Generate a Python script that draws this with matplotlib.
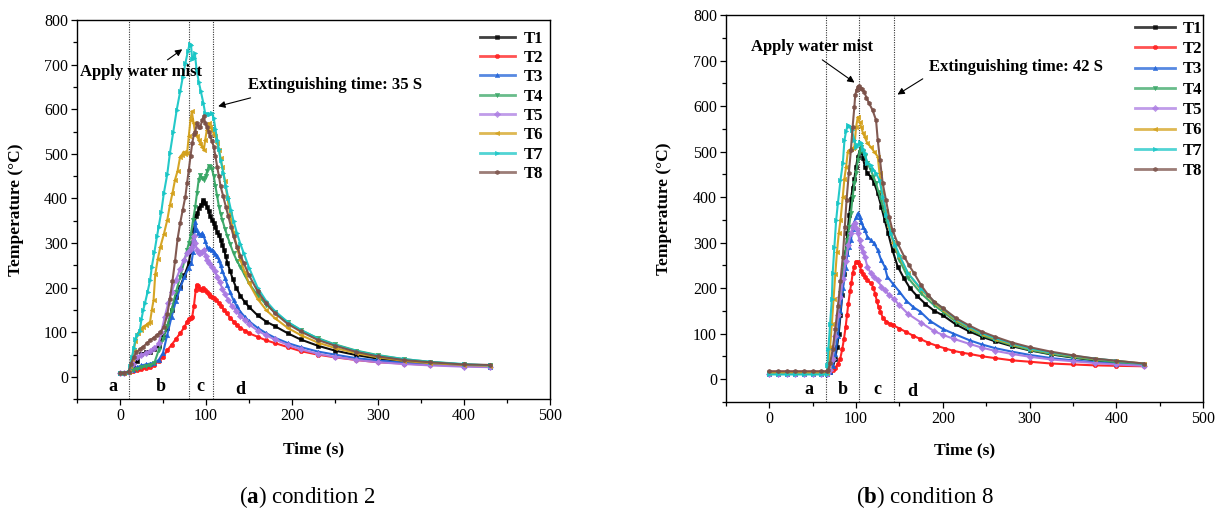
import matplotlib
matplotlib.use("Agg")
import matplotlib.pyplot as plt
from matplotlib.ticker import MultipleLocator

plt.rcParams['font.family'] = ['Liberation Serif', 'DejaVu Serif']
plt.rcParams['mathtext.fontset'] = 'custom'
plt.rcParams['mathtext.rm'] = 'Liberation Serif'
plt.rcParams['mathtext.bf'] = 'Liberation Serif:bold'

# ---------------- data: condition 2 (panel a) ----------------
c2_t1_time = [0, 5, 10, 15, 20, 25, 30, 35, 40, 45, 50, 55, 60, 65, 70, 75, 80, 82, 84, 86, 88, 90, 92, 94, 96, 97, 99, 101, 103, 105, 107, 109, 111, 113, 115, 117, 119, 121, 123, 125, 128, 131, 135, 140, 145, 150, 160, 170, 180, 195, 210, 230, 250, 275, 300, 330, 360, 400, 430]
c2_t1_temp = [10, 10, 12, 26, 36, 52, 55, 57, 62, 70, 90, 110, 150, 180, 202, 228, 255, 280, 300, 330, 360, 368, 378, 385, 392, 397, 390, 382, 372, 360, 352, 345, 335, 325, 318, 307, 296, 285, 270, 255, 238, 220, 200, 182, 168, 157, 138, 124, 114, 98, 84, 70, 59, 49, 41, 35, 30, 26, 24]

c2_t2_time = [0, 5, 10, 15, 20, 25, 30, 35, 40, 45, 50, 55, 60, 65, 70, 75, 78, 80, 82, 84, 86, 88, 89, 91, 93, 95, 97, 99, 101, 103, 105, 107, 109, 112, 115, 118, 121, 124, 128, 132, 136, 140, 145, 150, 160, 170, 180, 195, 210, 230, 250, 275, 300, 330, 360, 400, 430]
c2_t2_temp = [10, 10, 11, 13, 15, 17, 20, 23, 27, 36, 45, 60, 72, 85, 98, 112, 124, 130, 132, 135, 160, 195, 206, 203, 198, 196, 199, 195, 190, 186, 182, 179, 177, 172, 166, 158, 150, 143, 133, 124, 116, 110, 104, 98, 90, 82, 76, 67, 58, 50, 44, 38, 33, 30, 27, 25, 23]

c2_t3_time = [0, 5, 10, 15, 20, 25, 30, 35, 40, 45, 50, 55, 60, 65, 70, 75, 80, 83, 85, 86, 87.5, 89, 91, 93, 95, 97, 99, 101, 103, 105, 107, 109, 111, 113, 115, 117, 119, 122, 125, 128, 132, 136, 140, 145, 150, 160, 170, 180, 195, 210, 230, 250, 275, 300, 330, 360, 400, 430]
c2_t3_temp = [10, 10, 11, 16, 22, 26, 28, 30, 32, 38, 54, 95, 135, 170, 200, 225, 245, 255, 280, 310, 348, 330, 322, 318, 322, 318, 305, 292, 288, 286, 284, 280, 276, 270, 262, 250, 238, 222, 205, 190, 172, 158, 146, 135, 125, 110, 98, 88, 76, 67, 57, 50, 42, 37, 32, 28, 25, 23]

c2_t4_time = [0, 5, 10, 15, 20, 25, 30, 35, 40, 45, 50, 55, 60, 65, 70, 75, 78, 80, 82, 85, 87.5, 89.5, 91.5, 93.5, 95.5, 97.5, 99.5, 101.5, 103, 105, 107, 109, 111, 113, 115, 117, 119, 122, 125, 128, 132, 136, 140, 145, 150, 160, 170, 180, 195, 210, 230, 250, 275, 300, 330, 360, 400, 430]
c2_t4_temp = [10, 10, 11, 15, 18, 22, 24, 26, 32, 60, 85, 115, 150, 190, 225, 260, 285, 300, 315, 352, 382, 412, 442, 453, 445, 442, 450, 462, 472, 470, 465, 450, 427, 405, 382, 365, 352, 332, 315, 298, 277, 260, 247, 228, 210, 183, 162, 145, 123, 105, 87, 73, 59, 49, 40, 34, 28, 26]

c2_t5_time = [0, 5, 10, 15, 20, 25, 30, 35, 40, 45, 48, 52, 56, 60, 65, 70, 74, 78, 81, 83.5, 85.5, 87.5, 89.5, 91.5, 93.5, 95.5, 97.5, 99.5, 101, 104, 107, 110, 113, 116, 119, 122, 126, 130, 135, 140, 145, 150, 160, 170, 180, 195, 210, 230, 250, 275, 300, 330, 360, 400, 430]
c2_t5_temp = [10, 10, 12, 30, 45, 50, 53, 58, 65, 75, 100, 135, 165, 190, 218, 242, 262, 277, 285, 292, 315, 300, 285, 278, 277, 280, 285, 272, 262, 255, 247, 238, 225, 212, 198, 186, 172, 160, 148, 137, 127, 118, 104, 93, 84, 72, 62, 52, 45, 38, 33, 29, 26, 23, 22]

c2_t6_time = [0, 5, 10, 12, 14, 16, 18, 21, 24, 27, 30, 33, 35, 37, 39, 41, 44, 47, 51, 55, 58, 61, 64, 67, 70, 72, 74, 76, 78, 80, 82, 83.5, 85.5, 87.5, 89.5, 91.5, 93.5, 95.5, 97.5, 99, 101, 103, 105, 107, 109, 111, 113, 115, 117, 119, 122, 125, 128, 132, 136, 140, 145, 150, 160, 170, 180, 195, 210, 230, 250, 275, 300, 330, 360, 400, 430]
c2_t6_temp = [10, 10, 12, 25, 40, 60, 80, 98, 105, 113, 116, 120, 124, 150, 172, 230, 265, 292, 320, 352, 385, 412, 442, 462, 494, 498, 505, 500, 501, 540, 576, 595, 570, 546, 540, 531, 522, 516, 509, 530, 554, 569, 560, 554, 545, 539, 525, 509, 490, 471, 440, 400, 365, 325, 290, 262, 235, 210, 175, 150, 132, 110, 94, 77, 65, 53, 44, 36, 31, 27, 25]

c2_t7_time = [0, 5, 10, 12, 14, 16, 18, 20, 23, 25, 27, 29, 32, 35, 37, 40, 43, 45, 48, 51, 55, 58, 62, 66, 70, 73, 76, 79, 81, 82.5, 84, 85.5, 87, 89, 91.5, 94, 97, 99, 101, 103, 105, 107, 109, 111, 113, 115, 117, 120, 123, 126, 129, 132, 136, 140, 144, 150, 160, 170, 180, 195, 210, 230, 250, 275, 300, 330, 360, 400, 430]
c2_t7_temp = [10, 10, 12, 25, 45, 65, 85, 95, 103, 130, 150, 165, 190, 217, 247, 280, 315, 337, 370, 412, 455, 501, 550, 599, 640, 672, 703, 730, 747, 745, 712, 714, 725, 690, 662, 640, 613, 591, 590, 589, 590, 591, 580, 555, 531, 510, 487, 458, 427, 400, 374, 350, 322, 298, 277, 245, 200, 170, 148, 123, 106, 86, 72, 58, 48, 40, 34, 29, 26]

c2_t8_time = [0, 5, 10, 13, 16, 19, 23, 27, 31, 35, 39, 43, 47, 51, 55, 58, 61, 64, 67, 70, 73, 76, 78, 80, 82, 84, 86, 87.5, 89.5, 91.5, 93.5, 95.5, 97.5, 99, 101, 103, 105, 107, 109, 111, 113, 115, 117, 120, 123, 126, 129, 132, 136, 140, 144, 150, 160, 170, 180, 195, 210, 230, 250, 275, 300, 330, 360, 400, 430]
c2_t8_temp = [10, 10, 12, 30, 45, 55, 62, 68, 75, 82, 88, 94, 100, 112, 140, 175, 215, 260, 310, 345, 375, 404, 435, 464, 495, 524, 545, 550, 569, 560, 561, 575, 585, 570, 561, 550, 539, 528, 516, 495, 471, 450, 427, 405, 382, 360, 337, 315, 292, 272, 255, 228, 192, 165, 143, 119, 102, 83, 70, 56, 46, 38, 33, 28, 27]

# ---------------- data: condition 8 (panel b) ----------------
c8_t1_time = [0, 10, 20, 30, 40, 50, 60, 66, 70, 73, 76, 78, 80, 82, 84, 86, 88, 90, 92, 94, 96, 98, 100, 102, 104, 106, 108, 110, 113, 117, 121, 125, 129, 133, 137, 142, 148, 155, 162, 170, 180, 190, 200, 215, 230, 245, 260, 280, 300, 325, 350, 375, 400, 432]
c8_t1_temp = [13, 13, 13, 13, 13, 13, 13, 13, 15, 25, 45, 70, 100, 140, 185, 230, 280, 320, 360, 395, 420, 440, 467, 489, 500, 503, 485, 467, 452, 445, 430, 408, 379, 349, 320, 283, 247, 222, 200, 183, 165, 150, 140, 120, 105, 93, 83, 72, 63, 54, 47, 41, 36, 31]

c8_t2_time = [0, 10, 20, 30, 40, 50, 60, 66, 70, 73, 76, 79, 81.5, 84, 86, 88, 89.5, 91, 93, 94.5, 96, 98, 100, 102, 104, 106, 108, 110, 113, 117, 120, 122, 124, 126, 128, 131, 135, 139, 143, 150, 158, 166, 174, 183, 193, 203, 212, 222, 231, 245, 260, 280, 300, 325, 350, 375, 400, 432]
c8_t2_temp = [16, 16, 16, 16, 16, 16, 16, 16, 17, 20, 25, 33, 43, 65, 88, 115, 140, 165, 193, 210, 232, 247, 258, 258, 250, 238, 230, 225, 218, 210, 201, 187, 171, 158, 148, 134, 126, 121, 118, 111, 103, 95, 88, 80, 73, 67, 62, 58, 55, 50, 46, 41, 38, 34, 32, 30, 29, 28]

c8_t3_time = [0, 10, 20, 30, 40, 50, 60, 66, 70, 73, 76, 79, 82, 85, 88, 90, 92, 94, 96, 98, 100, 102, 104, 106, 108, 110, 113, 117, 121, 125, 129, 133, 136, 143, 150, 158, 166, 174, 185, 200, 212, 231, 245, 260, 280, 300, 325, 350, 375, 400, 432]
c8_t3_temp = [12, 12, 12, 12, 12, 12, 12, 12, 15, 28, 55, 95, 150, 200, 245, 275, 290, 305, 330, 345, 355, 364, 355, 345, 335, 327, 313, 305, 298, 283, 261, 247, 225, 208, 192, 172, 158, 148, 128, 110, 100, 85, 76, 68, 60, 53, 46, 41, 37, 34, 30]

c8_t4_time = [0, 10, 20, 30, 40, 50, 60, 66, 70, 73, 76, 79, 82, 85, 88, 90, 92, 94, 96, 98, 100, 102, 104, 106, 108, 110, 113, 117, 120, 123, 126, 129, 132, 136, 140, 145, 150, 160, 175, 190, 200, 215, 230, 245, 260, 280, 300, 325, 350, 375, 400, 432]
c8_t4_temp = [13, 13, 13, 13, 13, 13, 13, 13, 20, 45, 90, 140, 190, 240, 280, 305, 335, 364, 400, 430, 452, 481, 500, 510, 500, 490, 475, 459, 445, 430, 410, 393, 370, 345, 320, 290, 262, 222, 188, 162, 148, 126, 110, 96, 86, 74, 64, 55, 48, 42, 37, 31]

c8_t5_time = [0, 10, 20, 30, 40, 50, 60, 66, 70, 73, 76, 79, 82, 85, 88, 91, 94, 96, 98, 99, 101, 102, 104, 106, 108, 110, 113, 117, 121, 125, 129, 133, 138, 144, 150, 160, 175, 190, 200, 213, 231, 245, 260, 280, 300, 325, 350, 375, 400, 432]
c8_t5_temp = [12, 12, 12, 12, 12, 12, 12, 12, 20, 45, 95, 140, 180, 220, 260, 295, 320, 335, 340, 342, 330, 320, 305, 291, 280, 269, 247, 232, 225, 218, 203, 195, 185, 175, 162, 143, 124, 105, 97, 88, 77, 69, 62, 55, 49, 43, 39, 35, 32, 29]

c8_t6_time = [0, 10, 20, 30, 40, 50, 60, 66, 68, 70, 72, 74, 76, 78, 80, 82, 84.7, 86.5, 88.5, 90.5, 92, 94, 96, 98, 100, 102, 104, 106, 108, 110, 113, 117, 121, 125, 127, 130, 134, 138, 143, 150, 160, 175, 190, 200, 215, 230, 245, 260, 280, 300, 325, 350, 375, 400, 432]
c8_t6_temp = [13, 13, 13, 13, 13, 13, 13, 13, 30, 70, 120, 175, 230, 280, 320, 349, 401, 440, 467, 500, 503, 505, 507, 510, 554, 576, 565, 554, 540, 532, 518, 510, 499, 489, 452, 410, 370, 335, 300, 268, 232, 196, 168, 152, 130, 113, 99, 88, 76, 66, 57, 50, 44, 40, 34]

c8_t7_time = [0, 10, 20, 30, 40, 50, 60, 66, 67, 68, 70, 72, 73, 75, 77, 79, 82, 84.7, 86.6, 88.5, 90.4, 92, 95, 98, 100, 102, 104, 106, 108, 110, 113, 117, 120, 123, 127, 131, 135, 140, 145, 150, 160, 175, 190, 200, 215, 230, 245, 260, 280, 300, 325, 350, 375, 400, 432]
c8_t7_temp = [10, 10, 10, 10, 10, 10, 10, 10, 30, 65, 120, 175, 232, 291, 349, 386, 437, 474, 525, 545, 558, 555, 547, 525, 510, 515, 520, 518, 505, 496, 474, 470, 460, 452, 437, 400, 360, 320, 295, 272, 232, 198, 170, 155, 132, 115, 101, 90, 78, 67, 58, 51, 45, 40, 33]

c8_t8_time = [0, 10, 20, 30, 40, 50, 60, 66, 68, 70, 73, 76, 79, 82, 84.7, 87, 89, 91.6, 94, 96, 98, 99, 100.5, 102, 103.5, 105, 107, 109.6, 112, 115, 119, 123, 125, 127.6, 130.7, 134.5, 138, 142, 148, 155.5, 161, 167, 175, 183, 190, 200, 215, 230, 245, 260, 280, 300, 325, 350, 375, 400, 432]
c8_t8_temp = [17, 17, 17, 17, 17, 17, 17, 17, 20, 35, 65, 110, 160, 215, 269, 335, 393, 452, 503, 554, 598, 624, 635, 642, 645, 640, 637, 630, 618, 606, 591, 569, 525, 481, 430, 393, 357, 327, 298, 269, 250, 232, 206, 185, 170, 156, 134, 118, 104, 93, 80, 70, 60, 52, 45, 40, 34]

series_labels = ['T1', 'T2', 'T3', 'T4', 'T5', 'T6', 'T7', 'T8']
x_ticks = [0, 100, 200, 300, 400, 500]
y_ticks = [0, 100, 200, 300, 400, 500, 600, 700, 800]

panel_a_series = [(c2_t1_time, c2_t1_temp), (c2_t2_time, c2_t2_temp), (c2_t3_time, c2_t3_temp),
                  (c2_t4_time, c2_t4_temp), (c2_t5_time, c2_t5_temp), (c2_t6_time, c2_t6_temp),
                  (c2_t7_time, c2_t7_temp), (c2_t8_time, c2_t8_temp)]
panel_b_series = [(c8_t1_time, c8_t1_temp), (c8_t2_time, c8_t2_temp), (c8_t3_time, c8_t3_temp),
                  (c8_t4_time, c8_t4_temp), (c8_t5_time, c8_t5_temp), (c8_t6_time, c8_t6_temp),
                  (c8_t7_time, c8_t7_temp), (c8_t8_time, c8_t8_temp)]

# ---------------- styles ----------------
colors = ['#000000', '#FF1A1A', '#1F62D8', '#37A665', '#AB7BE2', '#D3A01A', '#18C6C6', '#7B5149']
markers = ['s', 'o', '^', 'v', 'D', '<', '>', 'h']

fig = plt.figure(figsize=(12.23, 5.16), dpi=100)
ax1 = fig.add_axes([0.06296, 0.2262, 0.38675, 0.7351])
ax2 = fig.add_axes([0.59362, 0.2214, 0.39002, 0.7495])


def style_axes(ax, ylab_x, xlab_y):
    ax.set_xlim(-50, 500)
    ax.set_ylim(-50, 800)
    ax.set_xticks(x_ticks)
    ax.set_yticks(y_ticks)
    ax.xaxis.set_minor_locator(MultipleLocator(50))
    ax.yaxis.set_minor_locator(MultipleLocator(50))
    ax.tick_params(which='major', direction='out', length=4.5, width=0.9, labelsize=11.5, pad=2)
    ax.tick_params(which='minor', direction='out', length=2.8, width=0.9)
    ax.tick_params(top=False, right=False, which='both')
    for s in ax.spines.values():
        s.set_linewidth(1.0)
    ax.set_xlabel('Time (s)', fontsize=12.5, fontweight='bold')
    ax.set_ylabel('Temperature (°C)', fontsize=12.5, fontweight='bold')
    ax.xaxis.set_label_coords(0.5, xlab_y)
    ax.yaxis.set_label_coords(ylab_x, 0.5)


def draw(ax, series, vlines, letters, legend_anchor, handlelen, lspace):
    for (t, v), c, m, lab in zip(series, colors, markers, series_labels):
        ax.plot(t, v, color=c, lw=1.5, marker=m, markersize=3.2, markeredgewidth=0.4,
                label=lab, alpha=0.95, zorder=3)
    for xv in vlines:
        ax.axvline(xv, color='#333333', lw=0.8, ls=(0, (1, 1.2)), zorder=2)
    for (xl, yl, s) in letters:
        ax.text(xl, yl, s, fontsize=13, fontweight='bold', ha='center', va='center')
    leg = ax.legend(loc='upper left', bbox_to_anchor=legend_anchor, frameon=False,
                    prop={'weight': 'bold', 'size': 12}, handlelength=handlelen,
                    handletextpad=0.5, labelspacing=lspace, borderpad=0, borderaxespad=0)
    for h in leg.legend_handles:
        h.set_linewidth(2.0)
        h.set_alpha(0.75)


style_axes(ax1, -0.112, -0.112)
style_axes(ax2, -0.113, -0.104)

draw(ax1, panel_a_series, [10, 80, 108],
     [(-8, -22, 'a'), (47, -22, 'b'), (93, -22, 'c'), (140, -27, 'd')],
     (0.852, 0.972), 2.1, 0.2)
draw(ax2, panel_b_series, [65, 103.5, 144],
     [(46, -24, 'a'), (85, -24, 'b'), (124, -22, 'c'), (165, -27, 'd')],
     (0.857, 0.985), 2.4, 0.26)

# annotations panel a
ax1.text(-46.5, 684, 'Apply water mist', fontsize=12, fontweight='bold', ha='left', va='center')
ax1.annotate('', xy=(75, 738), xytext=(52.6, 707),
             arrowprops=dict(arrowstyle='-|>', color='black', lw=0.8, mutation_scale=10))
ax1.text(149, 655, 'Extinguishing time: 35 S', fontsize=12, fontweight='bold', ha='left', va='center')
ax1.annotate('', xy=(111, 605), xytext=(155, 627),
             arrowprops=dict(arrowstyle='-|>', color='black', lw=0.8, mutation_scale=10))

# annotations panel b
ax2.text(-21, 730, 'Apply water mist', fontsize=12, fontweight='bold', ha='left', va='center')
ax2.annotate('', xy=(100.8, 648), xytext=(58.4, 705),
             arrowprops=dict(arrowstyle='-|>', color='black', lw=0.8, mutation_scale=10))
ax2.text(183.5, 686, 'Extinguishing time: 42 S', fontsize=12, fontweight='bold', ha='left', va='center')
ax2.annotate('', xy=(145, 622), xytext=(179.6, 663),
             arrowprops=dict(arrowstyle='-|>', color='black', lw=0.8, mutation_scale=10))

# captions
fig.text(307 / 1223, 1 - 497 / 516, r'($\mathbf{a}$) condition 2', fontsize=16.5, ha='center', va='center')
fig.text(925 / 1223, 1 - 497 / 516, r'($\mathbf{b}$) condition 8', fontsize=16.5, ha='center', va='center')

fig.savefig('out.png', dpi=100)
